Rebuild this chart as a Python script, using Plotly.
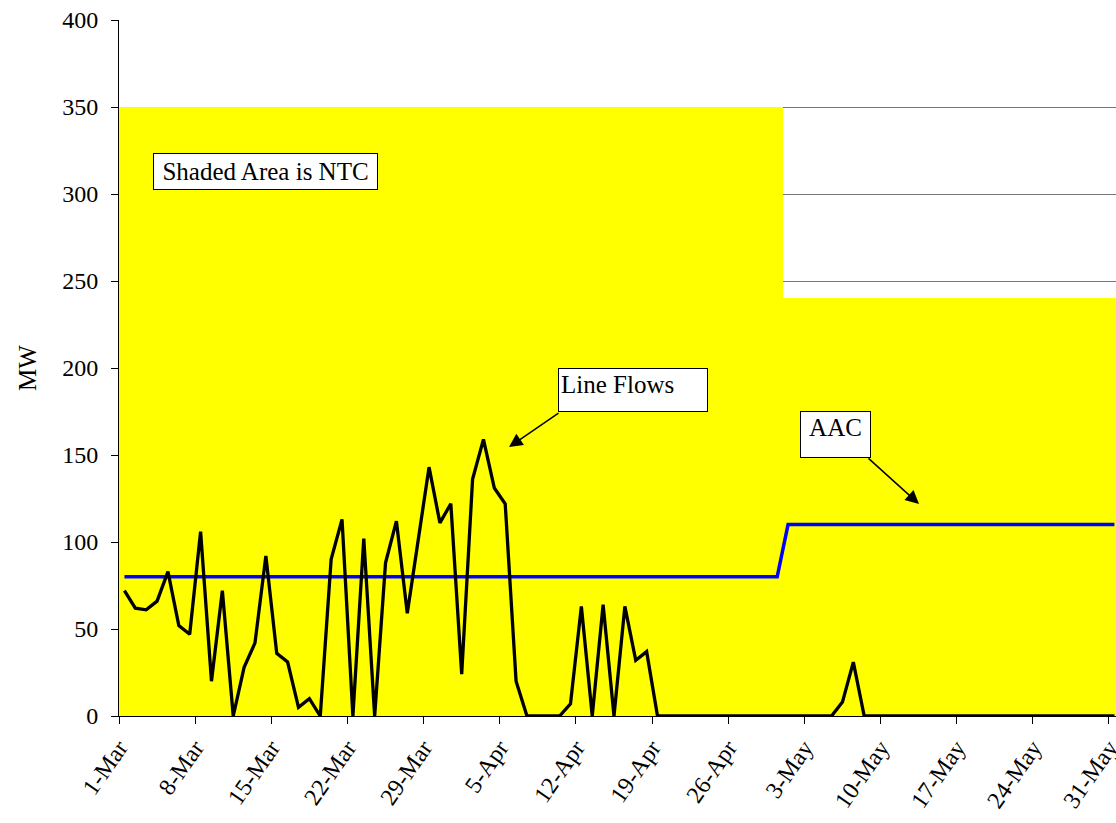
import pandas as pd
import plotly.graph_objects as go

# Daily values, 1-Mar through 31-May
dates = pd.date_range("2024-03-01", "2024-05-31", freq="D")

line_flows = [
    72, 62, 61, 66, 83, 52, 47, 106, 20, 72,
    0, 28, 42, 92, 36, 31, 5, 10, 0, 90,
    113, 0, 102, 0, 88, 112, 59, 101, 143, 111,
    122, 24, 136, 159, 131, 122, 20, 0, 0, 0,
    0, 7, 63, 0, 64, 0, 63, 32, 37, 0,
    0, 0, 0, 0, 0, 0, 0, 0, 0, 0,
    0, 0, 0, 0, 0, 0, 8, 31, 0, 0,
    0, 0, 0, 0, 0, 0, 0, 0, 0, 0,
    0, 0, 0, 0, 0, 0, 0, 0, 0, 0,
    0, 0,
]

ntc = [
    350, 350, 350, 350, 350, 350, 350, 350, 350, 350,
    350, 350, 350, 350, 350, 350, 350, 350, 350, 350,
    350, 350, 350, 350, 350, 350, 350, 350, 350, 350,
    350, 350, 350, 350, 350, 350, 350, 350, 350, 350,
    350, 350, 350, 350, 350, 350, 350, 350, 350, 350,
    350, 350, 350, 350, 350, 350, 350, 350, 350, 350,
    350, 240, 240, 240, 240, 240, 240, 240, 240, 240,
    240, 240, 240, 240, 240, 240, 240, 240, 240, 240,
    240, 240, 240, 240, 240, 240, 240, 240, 240, 240,
    240, 240,
]

aac = [
    80, 80, 80, 80, 80, 80, 80, 80, 80, 80,
    80, 80, 80, 80, 80, 80, 80, 80, 80, 80,
    80, 80, 80, 80, 80, 80, 80, 80, 80, 80,
    80, 80, 80, 80, 80, 80, 80, 80, 80, 80,
    80, 80, 80, 80, 80, 80, 80, 80, 80, 80,
    80, 80, 80, 80, 80, 80, 80, 80, 80, 80,
    80, 110, 110, 110, 110, 110, 110, 110, 110, 110,
    110, 110, 110, 110, 110, 110, 110, 110, 110, 110,
    110, 110, 110, 110, 110, 110, 110, 110, 110, 110,
    110, 110,
]

y_ticks = [0, 50, 100, 150, 200, 250, 300, 350, 400]

FONT = "Times New Roman, Liberation Serif, DejaVu Serif, serif"
DAY_MS = 86400000

W, H = 1116, 823
L, R, T, B = 119, 0, 20, 107
PW, PH = W - L - R, H - T - B


def px(x):
    return (x - L) / PW


def py(y):
    return (H - B - y) / PH


fig = go.Figure()

# NTC shaded area: one full-day column per date
fig.add_trace(go.Bar(
    x=dates, y=ntc, width=DAY_MS,
    xperiod=DAY_MS, xperiodalignment="middle",
    marker=dict(color="#FFFF00", line=dict(width=0)),
    name="NTC", hoverinfo="skip",
))

fig.add_trace(go.Scatter(
    x=dates, y=aac, mode="lines",
    xperiod=DAY_MS, xperiodalignment="middle",
    line=dict(color="#0000FF", width=3.5),
    name="AAC",
))

fig.add_trace(go.Scatter(
    x=dates, y=line_flows, mode="lines",
    xperiod=DAY_MS, xperiodalignment="middle",
    line=dict(color="#000000", width=3.3),
    name="Line Flows",
))

x_end = pd.Timestamp("2024-03-01") + pd.Timedelta(days=PW / 10.879)

fig.update_xaxes(
    type="date",
    range=[pd.Timestamp("2024-03-01"), x_end],
    tick0="2024-03-01", dtick=7 * DAY_MS,
    tickformat="%-d-%b", tickangle=-55,
    ticks="outside", ticklen=7, tickcolor="black",
    showline=True, linecolor="black", linewidth=1,
    showgrid=False, zeroline=False,
    ticklabeloverflow="allow", automargin=False,
    tickfont=dict(family=FONT, size=24, color="black"),
)

fig.update_yaxes(
    range=[0, 400], tickvals=y_ticks,
    ticks="outside", ticklen=7, tickcolor="black",
    showline=True, linecolor="black", linewidth=1,
    showgrid=True, gridcolor="#777777", gridwidth=1,
    zeroline=False, automargin=False,
    ticklabelstandoff=8,
    tickfont=dict(family=FONT, size=24, color="black"),
    title=dict(text="MW", font=dict(family=FONT, size=25, color="black"), standoff=18),
)

box = dict(bgcolor="white", bordercolor="black", borderwidth=1, borderpad=2,
           showarrow=False, xref="paper", yref="paper",
           font=dict(family=FONT, size=25, color="black"))

annotations = [
    dict(text="Shaded Area is NTC", x=px(153), y=py(153), xanchor="left", yanchor="top",
         width=219, height=31, align="center", valign="middle", **box),
    dict(text="Line Flows", x=px(558), y=py(368), xanchor="left", yanchor="top",
         width=144, height=38, align="left", valign="top", **box),
    dict(text="AAC", x=px(800), y=py(411), xanchor="left", yanchor="top",
         width=65, height=41, align="center", valign="top", **box),
    dict(text="", x=px(509), y=py(447), xref="paper", yref="paper",
         showarrow=True, ax=51, ay=-35, arrowhead=2, arrowsize=1.8,
         arrowwidth=1.5, arrowcolor="black"),
    dict(text="", x=px(919), y=py(504), xref="paper", yref="paper",
         showarrow=True, ax=-52, ay=-47, arrowhead=2, arrowsize=1.8,
         arrowwidth=1.5, arrowcolor="black"),
]

fig.update_layout(
    width=W, height=H,
    margin=dict(l=L, r=R, t=T, b=B),
    paper_bgcolor="white", plot_bgcolor="white",
    bargap=0, showlegend=False,
    annotations=annotations,
    font=dict(family=FONT, color="black"),
)

fig.write_html("out.html")
